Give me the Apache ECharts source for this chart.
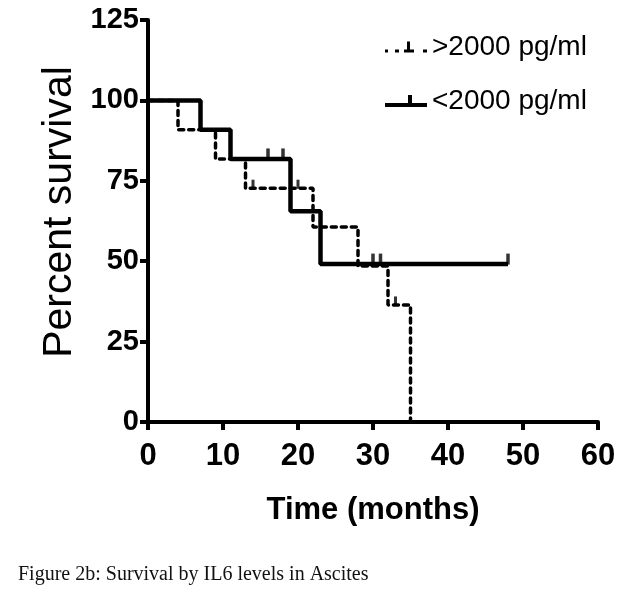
<!DOCTYPE html>
<html>
<head>
<meta charset="utf-8">
<script src="https://cdn.jsdelivr.net/npm/echarts@6/dist/echarts.min.js"></script>
<style>
  html, body { margin: 0; padding: 0; background: #fff; }
  #chart { width: 631px; height: 602px; }
</style>
</head>
<body>
<div id="chart"></div>
<script>
// Kaplan-Meier steps (months, percent survival)
const highTimes = [0, 4, 9, 13, 22, 28, 32, 35];
const highSurv = [100, 90.9, 81.8, 72.7, 60.6, 48.5, 36.4, 0];
const highCensorTimes = [14, 20, 33];
const highCensorSurv = [72.7, 72.7, 36.4];

const lowTimes = [0, 7, 11, 19, 23, 48];
const lowSurv = [100, 90.9, 81.8, 65.5, 49.1, 49.1];
const lowCensorTimes = [16, 18, 30, 31, 48];
const lowCensorSurv = [81.8, 81.8, 49.1, 49.1, 49.1];

const seriesNames = ['>2000 pg/ml', '<2000 pg/ml'];
const xTicks = { min: 0, max: 60, step: 10 };
const yTicks = { min: 0, max: 125, step: 25 };

const zip = (xs, ys) => xs.map((x, i) => [x, ys[i]]);

const sans = "'Liberation Sans', Arial, sans-serif";
const axisLine = { show: true, lineStyle: { color: '#000', width: 4 } };
const axisTick = { show: true, length: 8, lineStyle: { color: '#000', width: 4 } };

const dashedIcon = 'path://M0,9h3v3h-3z M10,9h4v3h-4z M19,9h10v3h-10z M22,1h3v8h-3z M38,9h4v3h-4z';
const solidIcon = 'path://M0,8h42v4h-42z M23,0h4v8h-4z';

const chart = echarts.init(document.getElementById('chart'));
chart.setOption({
  animation: false,
  backgroundColor: '#fff',
  grid: { left: 148, right: 33, top: 20, bottom: 180, containLabel: false },
  legend: {
    orient: 'vertical',
    left: 380, top: 27,
    itemWidth: 42, itemHeight: 12, itemGap: 24,
    itemStyle: { color: '#000', borderWidth: 0 },
    textStyle: { color: '#000', fontSize: 28, lineHeight: 30, fontFamily: sans },
    data: [
      { name: seriesNames[0], icon: dashedIcon },
      { name: seriesNames[1], icon: solidIcon }
    ]
  },
  xAxis: {
    type: 'value', min: xTicks.min, max: xTicks.max, interval: xTicks.step,
    axisLine, axisTick, splitLine: { show: false },
    axisLabel: { color: '#000', fontSize: 31, fontWeight: 'bold', fontFamily: sans, margin: 19 },
    name: 'Time (months)', nameLocation: 'middle', nameGap: 73,
    nameTextStyle: { color: '#000', fontSize: 31, fontWeight: 'bold', fontFamily: sans }
  },
  yAxis: {
    type: 'value', min: yTicks.min, max: yTicks.max, interval: yTicks.step,
    axisLine, axisTick, splitLine: { show: false },
    axisLabel: { color: '#000', fontSize: 29, fontWeight: 'bold', fontFamily: sans, margin: 9 },
    name: 'Percent survival', nameLocation: 'middle', nameGap: 53,
    nameTextStyle: { color: '#000', fontSize: 41, fontFamily: sans, padding: [0, 0, 0, 18] }
  },
  series: [
    {
      name: seriesNames[0], type: 'line', step: 'end', symbol: 'none',
      data: zip(highTimes, highSurv),
      lineStyle: { color: '#000', width: 3.5, type: [5, 5], cap: 'round' },
      itemStyle: { color: '#000' }, z: 3
    },
    {
      name: seriesNames[1], type: 'line', step: 'end', symbol: 'none',
      data: zip(lowTimes, lowSurv),
      lineStyle: { color: '#000', width: 4.5 },
      itemStyle: { color: '#000' }, z: 2
    },
    {
      name: seriesNames[0], type: 'scatter', symbol: 'rect',
      symbolSize: [3, 9], symbolOffset: [0, -4],
      data: zip(highCensorTimes, highCensorSurv),
      itemStyle: { color: '#000' }, z: 4
    },
    {
      name: seriesNames[1], type: 'scatter', symbol: 'rect',
      symbolSize: [3.5, 11], symbolOffset: [0, -5],
      data: zip(lowCensorTimes, lowCensorSurv),
      itemStyle: { color: '#000' }, z: 4
    }
  ],
  graphic: [{
    type: 'text', left: 18, top: 565,
    style: {
      text: 'Figure 2b: Survival by IL6 levels in Ascites',
      fill: '#111', fontSize: 20, fontFamily: "'Liberation Serif', 'Times New Roman', serif"
    }
  }]
});
</script>
</body>
</html>
